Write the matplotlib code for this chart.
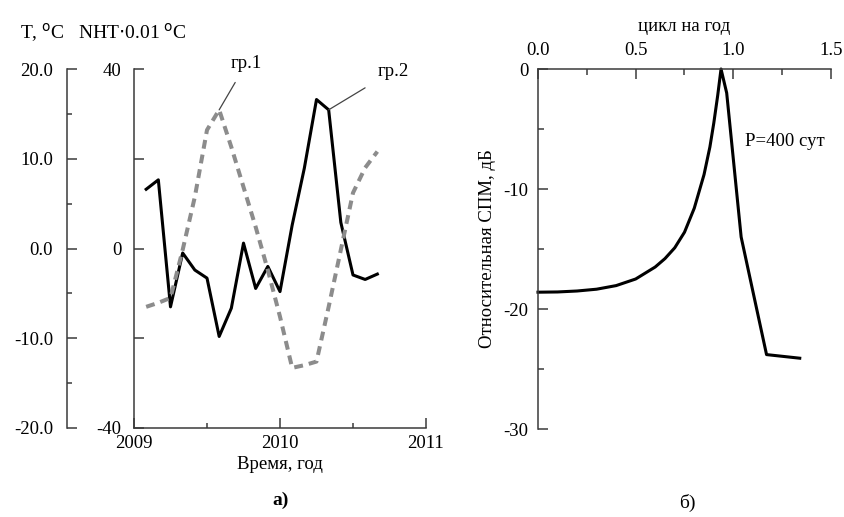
import matplotlib
matplotlib.use("Agg")
import matplotlib.pyplot as plt
from matplotlib.ticker import FixedLocator, FixedFormatter

plt.rcParams['font.family'] = ['Liberation Serif', 'DejaVu Serif']
plt.rcParams['font.size'] = 13.5
plt.rcParams['axes.unicode_minus'] = False

# ---------------- data ----------------
# monthly points, k = 1..20 months after Jan 2009
months = list(range(1, 21))
years = [2009 + k / 12 for k in months]
# gr.1 : temperature, deg C (left outer axis)
gr1_T = [-6.5, -6.05, -5.5, -0.15, 5.75, 13.2, 15.45, 11.3, 6.85, 2.4,
         -2.4, -7.6, -13.3, -13.0, -12.6, -6.5, -0.15, 6.2, 9.0, 10.8]
# gr.2 : NHT * 0.01 deg C (inner axis)
gr2_nht = [13.2, 15.3, -13.0, -1.0, -4.8, -6.6, -19.6, -13.3, 1.2, -8.9,
           -4.0, -9.6, 5.2, 17.9, 33.2, 30.9, 5.8, -5.9, -6.9, -5.7]

t_ticks = [20.0, 10.0, 0.0, -10.0, -20.0]
t_labels = ["20.0", "10.0", "0.0", "-10.0", "-20.0"]
nht_ticks = [40, 0, -40]
year_ticks = [2009, 2010, 2011]

# spectrum
freq = [0.0, 0.1, 0.2, 0.3, 0.4, 0.5, 0.6, 0.65, 0.7, 0.75, 0.8, 0.85,
        0.88, 0.9, 0.92, 0.937, 0.966, 1.04, 1.17, 1.34]
spm_db = [-18.6, -18.58, -18.5, -18.35, -18.05, -17.5, -16.5, -15.8, -14.9,
          -13.6, -11.6, -8.8, -6.5, -4.5, -2.2, 0.0, -2.0, -14.0, -23.8, -24.1]
freq_ticks = [0.0, 0.5, 1.0, 1.5]
db_ticks = [0, -10, -20, -30]

W, H = 845, 517
fig = plt.figure(figsize=(W / 100, H / 100), dpi=100)

spine_col = "#3a3a3a"
pt = 0.72  # px -> pt

# ---------------- left panel ----------------
ax = fig.add_axes([134 / W, 1 - 428 / H, (426 - 134) / W, (428 - 69) / H])
ax.set_xlim(2009, 2011)
ax.set_ylim(-40, 40)
for s in ["top", "right"]:
    ax.spines[s].set_visible(False)
for s in ["left", "bottom"]:
    ax.spines[s].set_color(spine_col)
    ax.spines[s].set_linewidth(1.1)
ax.yaxis.set_major_locator(FixedLocator(nht_ticks))
ax.yaxis.set_minor_locator(FixedLocator([20, -20]))
ax.xaxis.set_major_locator(FixedLocator(year_ticks))
ax.xaxis.set_minor_locator(FixedLocator([2009.5, 2010.5]))
ax.tick_params(axis="y", which="both", direction="in", length=10 * pt,
               width=1.1, color=spine_col, pad=9)
ax.tick_params(axis="x", which="major", direction="in", length=10 * pt,
               width=1.1, color=spine_col, pad=5)
ax.tick_params(axis="x", which="minor", direction="in", length=5 * pt,
               width=1.1, color=spine_col)
ax.set_xlabel("Время, год", labelpad=3)

axT = ax.twinx()
axT.set_ylim(-20, 20)
for s in ["top", "right", "bottom"]:
    axT.spines[s].set_visible(False)
axT.spines["left"].set_visible(True)
axT.spines["left"].set_position(("axes", -(134 - 67) / (426 - 134)))
axT.spines["left"].set_color(spine_col)
axT.spines["left"].set_linewidth(1.1)
axT.yaxis.set_ticks_position("left")
axT.yaxis.set_label_position("left")
axT.yaxis.set_major_locator(FixedLocator(t_ticks))
axT.yaxis.set_major_formatter(FixedFormatter(t_labels))
axT.yaxis.set_minor_locator(FixedLocator([15, 5, -5, -15]))
axT.tick_params(axis="y", which="major", direction="in", length=10 * pt,
                width=1.1, color=spine_col, pad=10)
axT.tick_params(axis="y", which="minor", direction="in", length=5 * pt,
                width=1.1, color=spine_col)

axT.plot(years, gr1_T, color="#8c8c8c", lw=2.9, ls=(0, (2.2, 1.5)),
         solid_capstyle="butt", dash_capstyle="butt", zorder=2)
ax.plot(years, gr2_nht, color="black", lw=2.2, zorder=3)

fig.text(20 / W, 1 - 33 / H, "T, $^{\\mathrm{o}}$C   NHT$\\cdot$0.01 $^{\\mathrm{o}}$C",
         ha="left", va="center", fontsize=14)

# annotations
ax.annotate("гр.1", xy=(years[6], gr1_T[6] * 2),
            xytext=(246 / W, 1 - 64 / H), textcoords="figure fraction",
            ha="center", va="center",
            arrowprops=dict(arrowstyle="-", color="#444444", lw=0.9,
                            shrinkA=6, shrinkB=0))
ax.annotate("гр.2", xy=(years[15], gr2_nht[15]),
            xytext=(393 / W, 1 - 71 / H), textcoords="figure fraction",
            ha="center", va="center",
            arrowprops=dict(arrowstyle="-", color="#444444", lw=0.9,
                            shrinkA=8, shrinkB=0))

fig.text(281 / W, 1 - 500 / H, "а)", ha="center", va="center",
         fontsize=14, fontweight="bold")

# ---------------- right panel ----------------
bx = fig.add_axes([538 / W, 1 - 429 / H, (831 - 538) / W, (429 - 69) / H])
bx.set_xlim(0, 1.5)
bx.set_ylim(-30, 0)
for s in ["bottom", "right"]:
    bx.spines[s].set_visible(False)
for s in ["left", "top"]:
    bx.spines[s].set_color(spine_col)
    bx.spines[s].set_linewidth(1.1)
bx.xaxis.set_ticks_position("top")
bx.xaxis.set_label_position("top")
bx.xaxis.set_major_locator(FixedLocator(freq_ticks))
bx.xaxis.set_major_formatter(FixedFormatter(["0.0", "0.5", "1.0", "1.5"]))
bx.xaxis.set_minor_locator(FixedLocator([0.25, 0.75, 1.25]))
bx.yaxis.set_major_locator(FixedLocator(db_ticks))
bx.yaxis.set_minor_locator(FixedLocator([-5, -15, -25]))
bx.tick_params(axis="both", which="major", direction="in", length=10 * pt,
               width=1.1, color=spine_col, pad=7)
bx.tick_params(axis="both", which="minor", direction="in", length=6 * pt,
               width=1.1, color=spine_col)
bx.set_xlabel("цикл на год", labelpad=8)
bx.set_ylabel("Относительная СПМ, дБ", labelpad=5)
bx.plot(freq, spm_db, color="black", lw=2.2, clip_on=False)
bx.text(745 / W, 1 - 142 / H, "P=400 сут", transform=fig.transFigure,
        ha="left", va="center")
fig.text(687 / W, 1 - 503 / H, "б)", ha="center", va="center", fontsize=14)

fig.savefig("out.png", dpi=100)
